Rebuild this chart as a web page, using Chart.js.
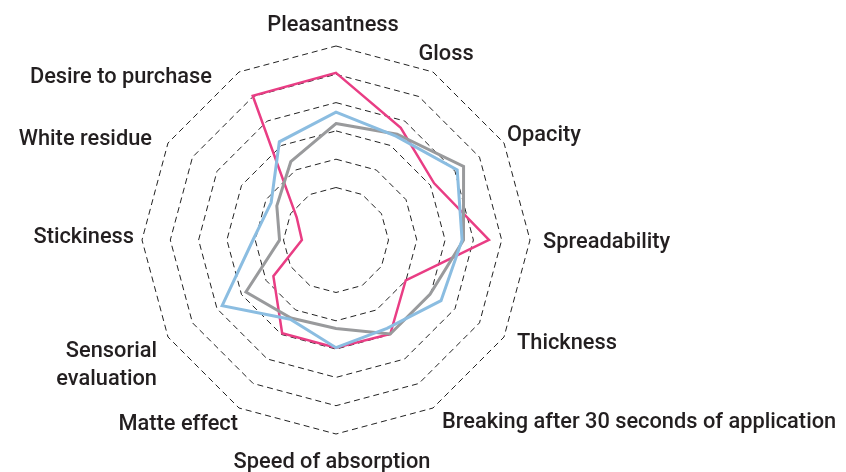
<!DOCTYPE html>
<html>
<head>
<meta charset="utf-8">
<script src="https://cdn.jsdelivr.net/npm/chart.js@4.4.1/dist/chart.umd.min.js"></script>
<style>
html,body{margin:0;padding:0;background:#fff;}
#wrap{position:relative;width:846px;height:472px;}
</style>
</head>
<body>
<div id="wrap"><canvas id="c" width="846" height="472"></canvas></div>
<script>
const categories = ["Pleasantness","Gloss","Opacity","Spreadability","Thickness","Breaking after 30 seconds of application","Speed of absorption","Matte effect",["Sensorial","evaluation"],"Stickiness","White residue","Desire to purchase"];
const pinkValues = [5.05, 3.72, 3.15, 4.55, 1.99, 2.98, 2.95, 2.95, 1.70, 0.35, 0.75, 5.03];
const grayValues = [3.26, 3.46, 4.35, 3.65, 2.98, 2.98, 2.27, 2.33, 2.82, 1.14, 1.56, 2.34];
const blueValues = [3.66, 3.38, 4.09, 3.60, 3.43, 2.75, 2.95, 2.38, 3.79, 2.08, 1.79, 3.15];
const ringTicks = [1, 2, 3, 4, 5, 6];
const scaleMin = -0.855;
const scaleMax = 6;

const labelFont = '500 21.8px Roboto';
const labelLayout = [
  {align:'center', x:333, y:[31]},
  {align:'center', x:446, y:[60]},
  {align:'left', x:507, y:[141]},
  {align:'left', x:543, y:[248]},
  {align:'left', x:517, y:[349]},
  {align:'left', x:442, y:[428]},
  {align:'center', x:332, y:[468]},
  {align:'right', x:238, y:[430]},
  {align:'right', x:157, y:[357, 385]},
  {align:'right', x:134, y:[243]},
  {align:'right', x:152, y:[145]},
  {align:'right', x:212, y:[83]}
];

const labelPlugin = {
  id: 'axisLabels',
  afterDraw(chart) {
    const ctx = chart.ctx;
    const scale = chart.scales.r;
    const dx = scale.xCenter - 336, dy = scale.yCenter - 240;
    ctx.save();
    ctx.font = labelFont;
    ctx.fillStyle = '#231f20';
    ctx.textBaseline = 'alphabetic';
    chart.data.labels.forEach((lab, i) => {
      const L = labelLayout[i];
      const lines = Array.isArray(lab) ? lab : [lab];
      ctx.textAlign = L.align;
      lines.forEach((t, j) => ctx.fillText(t, L.x + dx, L.y[j] + dy));
    });
    ctx.restore();
  }
};

new Chart(document.getElementById('c'), {
  type: 'radar',
  data: {
    labels: categories,
    datasets: [
      {label: 'Blue', data: blueValues, borderColor: '#8bbde1', borderWidth: 3, fill: false, pointRadius: 0, tension: 0},
      {label: 'Gray', data: grayValues, borderColor: '#999a9c', borderWidth: 3, fill: false, pointRadius: 0, tension: 0},
      {label: 'Pink', data: pinkValues, borderColor: '#e93d84', borderWidth: 2.5, fill: false, pointRadius: 0, tension: 0}
    ]
  },
  options: {
    responsive: false,
    animation: false,
    layout: {padding: {left: 142, top: 46, right: 316, bottom: 38}},
    plugins: {legend: {display: false}, tooltip: {enabled: false}},
    scales: {
      r: {
        min: scaleMin,
        max: scaleMax,
        afterBuildTicks: (s) => { s.ticks = [scaleMin].concat(ringTicks).map(v => ({value: v})); },
        angleLines: {display: false},
        grid: {color: (c) => c.index === 0 ? 'rgba(0,0,0,0)' : '#222222', lineWidth: 1},
        border: {dash: [6, 4]},
        ticks: {display: false},
        pointLabels: {display: false}
      }
    }
  },
  plugins: [labelPlugin]
});
</script>
</body>
</html>
